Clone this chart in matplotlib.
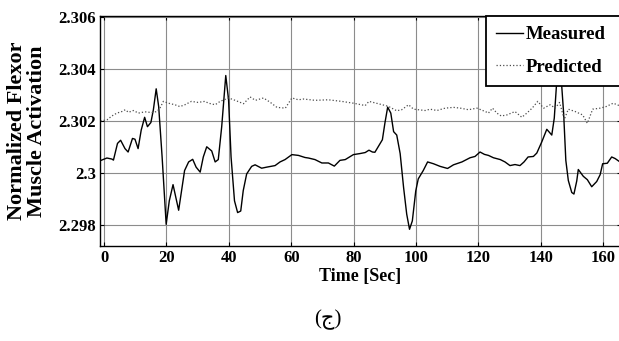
import matplotlib
matplotlib.use("Agg")
import matplotlib.pyplot as plt

plt.rcParams['font.family'] = ['Liberation Serif', 'DejaVu Sans']
plt.rcParams['font.weight'] = 'bold'

# measured activation (time in sec, normalized value)
t_meas = [-1.2, 0.9, 2.5, 3.0, 4.3, 5.3, 6.7, 7.7, 9.1, 9.9, 10.9, 11.9, 13.0, 13.9,
          15.0, 15.8, 16.7, 17.5, 18.6, 19.9, 20.9, 22.1, 23.9, 25.8, 27.1, 28.4,
          29.5, 30.8, 31.8, 32.9, 34.5, 35.6, 36.6, 37.7, 39.0, 39.9, 40.7, 41.8,
          42.8, 43.8, 44.6, 45.7, 47.3, 48.4, 50.5, 52.1, 54.8, 56.4, 58.0, 60.2,
          62.3, 64.4, 65.5, 67.6, 69.8, 71.9, 73.8, 75.6, 77.3, 79.9, 82.0, 83.7,
          84.9, 86.0, 86.8, 87.9, 89.2, 90.0, 90.9, 91.9, 92.8, 93.8, 94.9, 96.0,
          97.0, 97.9, 98.8, 99.9, 100.7, 102.3, 103.7, 105.6, 107.7, 110.1, 112.0,
          114.7, 117.3, 118.9, 120.5, 121.9, 123.2, 124.8, 127.0, 128.5, 130.1,
          131.7, 133.3, 134.6, 135.9, 137.6, 138.7, 140.3, 141.9, 143.5, 144.3,
          145.3, 146.3, 147.3, 148.0, 148.8, 149.9, 150.6, 151.5, 152.0, 153.6,
          154.9, 156.3, 157.9, 159.0, 159.8, 161.3, 162.7, 163.8, 165.7]
v_meas = [2.30048, 2.30058, 2.30054, 2.30050, 2.30114, 2.30126, 2.30094, 2.30081,
          2.30133, 2.30130, 2.30094, 2.30165, 2.30214, 2.30178, 2.30194, 2.30243,
          2.30323, 2.30255, 2.30062, 2.29804, 2.29894, 2.29956, 2.29858, 2.30010,
          2.30043, 2.30053, 2.30023, 2.30004, 2.30062, 2.30101, 2.30085, 2.30043,
          2.30052, 2.30178, 2.30374, 2.30281, 2.30062, 2.29894, 2.29849, 2.29855,
          2.29933, 2.29997, 2.30026, 2.30032, 2.30019, 2.30023, 2.30029, 2.30043,
          2.30052, 2.30071, 2.30068, 2.30060, 2.30058, 2.30052, 2.30039, 2.30039,
          2.30027, 2.30049, 2.30052, 2.30071, 2.30075, 2.30079, 2.30088, 2.30081,
          2.30080, 2.30102, 2.30128, 2.30191, 2.30253, 2.30230, 2.30159, 2.30146,
          2.30075, 2.29945, 2.29843, 2.29785, 2.29817, 2.29932, 2.29978, 2.30010,
          2.30043, 2.30036, 2.30026, 2.30018, 2.30032, 2.30043, 2.30059, 2.30064,
          2.30081, 2.30072, 2.30068, 2.30059, 2.30052, 2.30043, 2.30029, 2.30033,
          2.30029, 2.30043, 2.30062, 2.30064, 2.30077, 2.30120, 2.30168, 2.30146,
          2.30211, 2.30390, 2.30400, 2.30229, 2.30049, 2.29972, 2.29926, 2.29920,
          2.29970, 2.30014, 2.29988, 2.29975, 2.29948, 2.29968, 2.29994, 2.30036,
          2.30038, 2.30062, 2.30056, 2.30040]

# model prediction
t_pred = [-1.2, 0.9, 2.5, 4.1, 5.7, 6.8, 7.8, 9.4, 11.0, 13.1, 15.3, 16.9, 17.9,
          19.0, 20.6, 22.7, 24.3, 25.9, 28.0, 30.1, 32.3, 33.5, 35.6, 37.2, 39.9,
          42.0, 44.7, 46.8, 48.5, 51.1, 53.3, 55.4, 58.1, 60.2, 62.3, 63.9, 67.6,
          71.9, 76.1, 79.9, 83.7, 84.9, 87.9, 91.1, 93.8, 95.4, 97.6, 99.2, 100.7,
          102.9, 104.5, 106.7, 109.3, 112.0, 114.2, 116.8, 119.5, 122.2, 123.2,
          124.5, 125.9, 127.3, 129.1, 131.7, 133.9, 135.5, 137.2, 139.0, 140.9,
          143.0, 144.6, 146.0, 147.5, 148.8, 151.0, 153.4, 154.9, 156.6, 159.0,
          160.9, 163.2, 165.7]
v_pred = [2.30200, 2.30204, 2.30219, 2.30230, 2.30236, 2.30243, 2.30233, 2.30240,
          2.30230, 2.30235, 2.30232, 2.30236, 2.30249, 2.30275, 2.30268, 2.30262,
          2.30255, 2.30262, 2.30275, 2.30271, 2.30275, 2.30268, 2.30262, 2.30275,
          2.30288, 2.30279, 2.30266, 2.30292, 2.30279, 2.30288, 2.30271, 2.30252,
          2.30249, 2.30288, 2.30281, 2.30284, 2.30279, 2.30281, 2.30275, 2.30268,
          2.30259, 2.30275, 2.30266, 2.30256, 2.30239, 2.30243, 2.30262, 2.30245,
          2.30243, 2.30240, 2.30245, 2.30240, 2.30249, 2.30252, 2.30249, 2.30243,
          2.30249, 2.30236, 2.30230, 2.30249, 2.30230, 2.30219, 2.30223, 2.30236,
          2.30214, 2.30230, 2.30249, 2.30275, 2.30249, 2.30262, 2.30249, 2.30271,
          2.30206, 2.30245, 2.30236, 2.30223, 2.30191, 2.30245, 2.30249, 2.30255,
          2.30268, 2.30256]

x_ticks = [0, 20, 40, 60, 80, 100, 120, 140, 160]
y_ticks = [2.298, 2.300, 2.302, 2.304, 2.306]
y_tick_labels = ['2.298', '2.3', '2.302', '2.304', '2.306']

fig = plt.figure(figsize=(6.19, 3.41), dpi=100)
# the right edge of the frame sits just past the figure border
ax = fig.add_axes([0.1616, 0.2786, 0.8417, 0.6745])

ax.plot(t_meas, v_meas, color='black', lw=1.0, label='Measured')
ax.plot(t_pred, v_pred, color='0.3', lw=0.9, ls=':', label='Predicted')

ax.set_xlim(-1.3, 165.7)
ax.set_ylim(2.29721, 2.30602)
ax.set_xticks(x_ticks)
ax.set_yticks(y_ticks)
ax.set_yticklabels(y_tick_labels)
ax.tick_params(direction='in', top=True, right=True, length=3, labelsize=12, pad=3)
ax.grid(True, color='0.55', lw=0.8)
for s in ax.spines.values():
    s.set_linewidth(1.0)

ax.set_xlabel('Time [Sec]', fontsize=13, fontweight='bold', labelpad=1)
ax.set_ylabel('Normalized Flexor\nMuscle Activation', fontsize=16, fontweight='bold',
              linespacing=1.0, labelpad=8)

leg = ax.legend(loc='upper left', bbox_to_anchor=(0.741, 0.0, 0.3, 1.0), mode='expand',
                borderaxespad=0, fancybox=False, framealpha=1, edgecolor='black',
                fontsize=13.5, handlelength=1.4, handletextpad=0.15, labelspacing=0.8,
                borderpad=0.55)
leg.get_frame().set_linewidth(1.3)
leg.set_zorder(5)

fig.text(0.53, 0.062, '(ج)', fontsize=15, ha='center', va='center',
         family=['Liberation Serif', 'DejaVu Sans'], fontweight='normal')

fig.savefig('out.png', dpi=100)
